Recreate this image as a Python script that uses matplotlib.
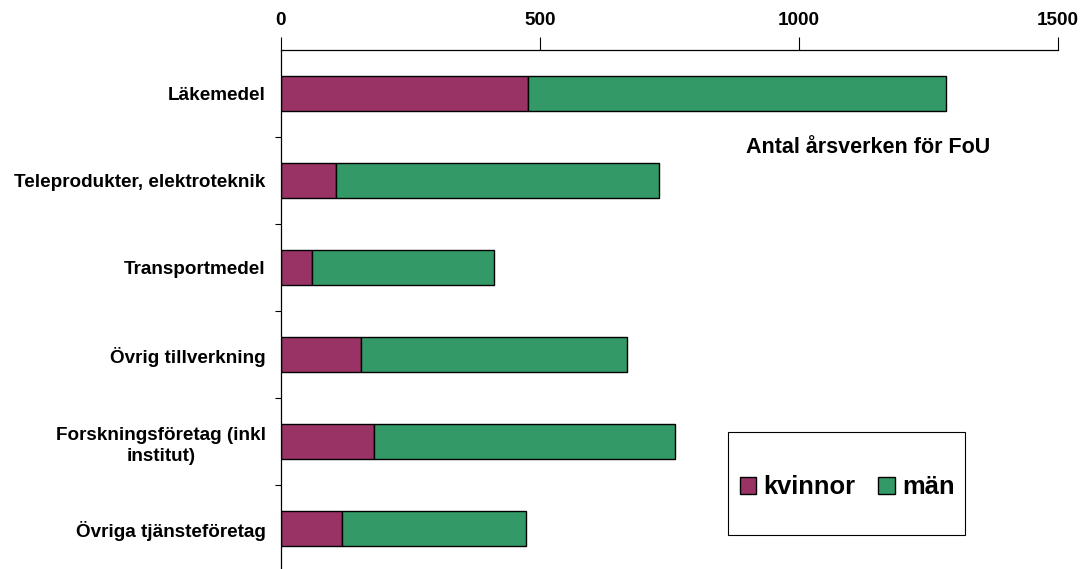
import matplotlib
matplotlib.use("Agg")
import matplotlib.pyplot as plt
from matplotlib.patches import Rectangle, Patch
import numpy as np

# FoU-årsverken per bransch
branscher = ["Läkemedel", "Teleprodukter, elektroteknik", "Transportmedel",
             "Övrig tillverkning", "Forskningsföretag (inkl\ninstitut)",
             "Övriga tjänsteföretag"]
kvinnor = [477, 106, 60, 155, 180, 117]
man = [808, 624, 351, 514, 582, 356]
xticks = [0, 500, 1000, 1500]

col_k = "#993366"
col_m = "#339966"

plt.rcParams["font.family"] = ["Liberation Sans", "DejaVu Sans"]
plt.rcParams["font.weight"] = "bold"

fig = plt.figure(figsize=(10.82, 5.69), dpi=100)
ax = fig.add_axes([0.2597, -0.0053, 0.7177, 0.9174])

y = np.arange(len(branscher))
ax.barh(y, kvinnor, height=0.4, color=col_k, edgecolor="black", linewidth=1.0)
ax.barh(y, man, left=kvinnor, height=0.4, color=col_m, edgecolor="black", linewidth=1.0)

ax.set_xlim(0, 1500)
ax.set_ylim(len(branscher) - 0.5, -0.5)

ax.xaxis.tick_top()
ax.set_xticks(xticks)
ax.set_xticklabels([str(v) for v in xticks], fontsize=13.6, fontweight="bold")
ax.tick_params(axis="x", direction="out", length=9.4, width=0.8, pad=6)

ax.set_yticks(y)
ax.set_yticklabels(branscher, fontsize=13.6, fontweight="bold", ha="right",
                   multialignment="center", linespacing=1.35)
ax.tick_params(axis="y", which="major", length=0, pad=11)
ax.set_yticks(np.arange(len(branscher)) + 0.5, minor=True)
ax.tick_params(axis="y", which="minor", direction="out", length=4, width=0.8)

for s in ["right", "bottom"]:
    ax.spines[s].set_visible(False)
for s in ["left", "top"]:
    ax.spines[s].set_linewidth(0.9)

fig.text(0.802, 0.740, "Antal årsverken för FoU", fontsize=15.5,
         fontweight="bold", ha="center", va="center")

# legend box
fig.patches.append(Rectangle((0.6728, 0.0598), 0.2191, 0.181,
                             transform=fig.transFigure, fill=False,
                             edgecolor="black", linewidth=0.8))
handles = [Patch(facecolor=col_k, edgecolor="black", label="kvinnor"),
           Patch(facecolor=col_m, edgecolor="black", label="män")]
fig.legend(handles=handles, loc="center", bbox_to_anchor=(0.783, 0.144),
           ncol=2, frameon=False, prop={"size": 18.4, "weight": "bold"},
           handlelength=0.65, handleheight=0.65, handletextpad=0.27,
           columnspacing=0.9)

fig.savefig("out.png", dpi=100)
